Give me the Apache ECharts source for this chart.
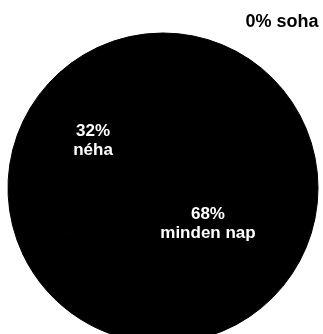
<!DOCTYPE html>
<html>
<head>
<meta charset="utf-8">
<style>
  html, body { margin: 0; padding: 0; background: #fff; }
  #chart { width: 323px; height: 334px; }
</style>
<script src="https://cdn.jsdelivr.net/npm/echarts@6/dist/echarts.min.js"></script>
</head>
<body>
<div id="chart"></div>
<script>
// Answer categories and their shares (%)
const categories = ['soha', 'minden nap', 'néha'];
const shares = [0, 68, 32];

const chart = echarts.init(document.getElementById('chart'), null, { renderer: 'canvas' });

const data = categories.map((name, i) => ({ name: name, value: shares[i] }));

chart.setOption({
  animation: false,
  backgroundColor: '#ffffff',
  series: [{
    type: 'pie',
    center: [163, 188],
    radius: [0, 155],
    startAngle: 90,
    clockwise: true,
    stillShowZeroSum: true,
    minShowLabelAngle: 0,
    avoidLabelOverlap: false,
    silent: true,
    // same-colour border hides the anti-aliased seam between slices
    itemStyle: { color: '#000000', borderColor: '#000000', borderWidth: 1 },
    label: {
      show: true,
      position: 'inside',
      color: '#ffffff',
      fontFamily: '"Liberation Sans", Arial, sans-serif',
      fontWeight: 'bold',
      fontSize: 17,
      lineHeight: 19,
      align: 'center',
      formatter: p => p.value === 0
        ? p.value + '% ' + p.name
        : p.value + '%\n' + p.name
    },
    labelLine: { show: false },
    labelLayout: function (params) {
      const name = categories[params.dataIndex];
      if (name === 'soha') {
        return { x: 282, y: 22, align: 'center', verticalAlign: 'middle' };
      }
      if (name === 'minden nap') {
        return { dx: -23, dy: -7 };
      }
      return { dx: -2, dy: -4 };
    },
    data: data.map(d => d.value === 0
      ? Object.assign({}, d, { label: { color: '#000000', fontSize: 18 } })
      : d)
  }]
});
</script>
</body>
</html>
